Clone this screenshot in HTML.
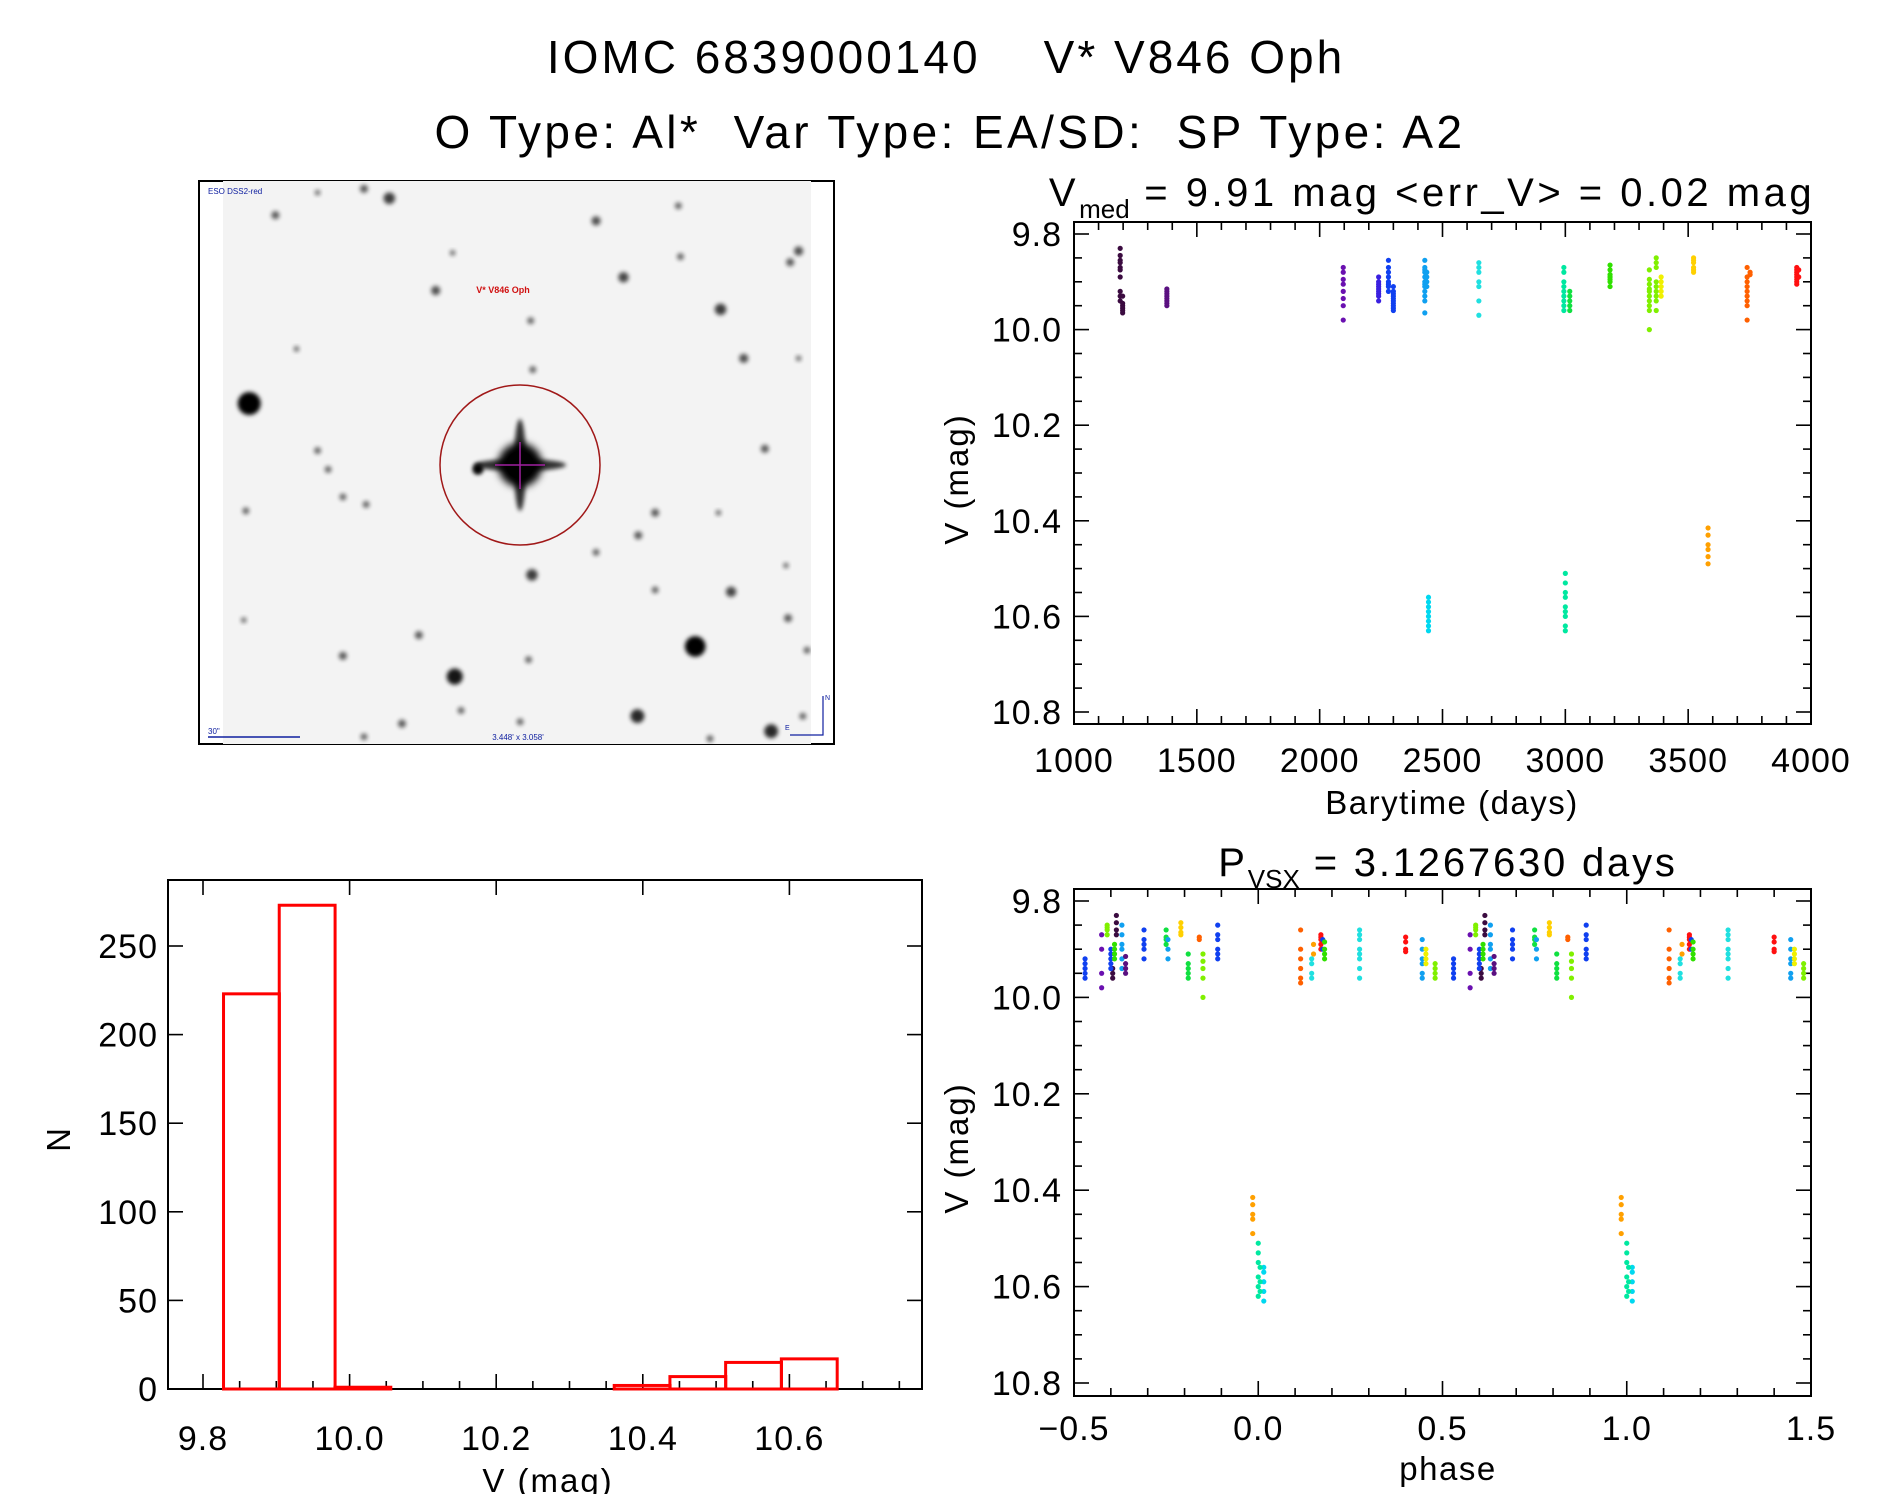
<!DOCTYPE html>
<html><head><meta charset="utf-8"><style>
html,body{margin:0;padding:0;background:#fff}
svg{display:block}
text{font-family:"Liberation Sans",sans-serif;fill:#000}
</style></head><body>
<svg id="fig" width="1889" height="1494" viewBox="0 0 1889 1494" xmlns="http://www.w3.org/2000/svg">
<defs>
<filter id="blur2" x="-50%" y="-50%" width="200%" height="200%"><feGaussianBlur stdDeviation="2.2"/></filter>
<filter id="blur4" x="-50%" y="-50%" width="200%" height="200%"><feGaussianBlur stdDeviation="4"/></filter>
<clipPath id="imgclip"><rect x="223" y="181" width="588" height="563"/></clipPath>
<clipPath id="clipTop"><rect x="1074" y="222" width="737" height="502"/></clipPath>
<clipPath id="clipPh"><rect x="1074" y="889" width="737" height="507"/></clipPath>
</defs>
<text x="946" y="73" font-size="46" text-anchor="middle" letter-spacing="3">IOMC 6839000140 &#160;&#160; V* V846 Oph</text>
<text x="950" y="148" font-size="46" text-anchor="middle" letter-spacing="3.4">O Type: Al* &#160;Var Type: EA/SD: &#160;SP Type: A2</text>

<g id="imgpanel">
<rect x="199" y="181" width="635" height="563" fill="#fff" stroke="#000" stroke-width="2"/>
<rect x="223" y="181" width="588" height="563" fill="#f3f3f3"/>
<g id="stars" clip-path="url(#imgclip)"></g>
<ellipse cx="520" cy="465" rx="80" ry="80" fill="none" stroke="#a01818" stroke-width="1.5"/>
<line x1="520" y1="442" x2="520" y2="489" stroke="#a020a0" stroke-width="1.5"/>
<line x1="495" y1="465" x2="545" y2="465" stroke="#a020a0" stroke-width="1.5"/>
<text x="503" y="293" font-size="9" font-weight="bold" style="fill:#d01010" text-anchor="middle">V* V846 Oph</text>
<text x="208" y="194" font-size="8" style="fill:#1020a0">ESO DSS2-red</text>
<text x="518" y="740" font-size="8" style="fill:#1020a0" text-anchor="middle">3.448' x 3.058'</text>
<text x="208" y="734" font-size="8" style="fill:#1020a0">30"</text>
<line x1="208" y1="737" x2="300" y2="737" stroke="#1020a0" stroke-width="1.5"/>
<polyline points="790,735 823,735 823,696" fill="none" stroke="#1020a0" stroke-width="1.2"/>
<text x="825" y="700" font-size="7" style="fill:#1020a0">N</text>
<text x="785" y="730" font-size="7" style="fill:#1020a0">E</text>
</g>

<g id="topplot"></g>
<g id="phplot"></g>
<g id="histplot"></g>
</svg>
<script>
// ---------- light curve data ----------
const lcColors = ["#3b0b40","#5a1080","#6a10b0","#3a20e0","#1040f0","#10a0f0","#00d8f0","#20e0e0","#00e8a0","#10e040","#30e000","#80f000","#f0f000","#ffd000","#ffa000","#ff6000","#ff1010"];
const lcTimes = [1188,1198,1378,2096,2240,2280,2300,2428,2436,2443,2648,2994,3000,3018,3182,3342,3370,3390,3522,3581,3740,3752,3942,3950];
const lcColorIdx = [0,0,1,2,3,4,4,5,5,6,7,8,8,9,10,11,11,12,13,14,15,15,16,16];
const lcMags = [
 [9.83,9.845,9.855,9.86,9.87,9.875,9.89,9.92,9.93,9.94],
 [9.93,9.945,9.95,9.955,9.96,9.965],
 [9.915,9.92,9.925,9.93,9.935,9.94,9.945,9.95],
 [9.87,9.88,9.895,9.905,9.92,9.935,9.95,9.98],
 [9.89,9.9,9.905,9.91,9.915,9.92,9.925,9.93,9.94],
 [9.855,9.87,9.88,9.89,9.9,9.905,9.91,9.92],
 [9.91,9.92,9.925,9.93,9.935,9.94,9.945,9.95,9.955,9.96],
 [9.855,9.87,9.875,9.88,9.89,9.9,9.905,9.91,9.92,9.93,9.94,9.965],
 [9.88,9.89,9.9,9.91],
 [10.56,10.57,10.58,10.59,10.6,10.61,10.62,10.63],
 [9.86,9.87,9.88,9.9,9.91,9.94,9.97],
 [9.87,9.88,9.9,9.91,9.92,9.93,9.94,9.95,9.96],
 [10.51,10.53,10.55,10.56,10.58,10.59,10.6,10.62,10.63],
 [9.92,9.93,9.94,9.95,9.96],
 [9.865,9.875,9.885,9.89,9.895,9.9,9.91],
 [9.875,9.895,9.905,9.915,9.92,9.93,9.94,9.95,9.96,10.0],
 [9.85,9.86,9.87,9.9,9.91,9.92,9.93,9.94,9.96],
 [9.89,9.9,9.91,9.92,9.93],
 [9.85,9.855,9.86,9.87,9.875,9.88],
 [10.415,10.43,10.45,10.46,10.475,10.49],
 [9.87,9.89,9.9,9.91,9.92,9.93,9.94,9.95,9.98],
 [9.88,9.885],
 [9.87,9.875,9.88,9.885,9.89,9.895,9.9,9.905],
 [9.875,9.89]
];
const lcXTicks = [1000,1500,2000,2500,3000,3500,4000];
const magTicks = [9.8,10.0,10.2,10.4,10.6,10.8];
const magTickLabels = ["9.8","10.0","10.2","10.4","10.6","10.8"];
// ---------- phase data ----------
const phPhase = [-0.47,-0.425,-0.41,-0.395,-0.385,-0.40,-0.39,-0.37,-0.36,-0.31,-0.25,-0.245,-0.21,-0.19,-0.16,-0.15,-0.11,0.115,0.145,0.15,0.17,0.175,0.18,0.275,0.40,0.445,0.455,0.48,-0.015,0.0,0.015,0.005];
const phColorIdx = [4,2,11,0,0,4,10,5,1,4,9,5,13,9,15,11,4,15,7,14,16,4,10,7,16,5,12,11,14,8,6,8];
const phMags = [
 [9.92,9.93,9.94,9.95,9.96],[9.87,9.9,9.95,9.98],[9.85,9.855,9.86,9.87],[9.94,9.95,9.96],[9.83,9.845,9.86,9.87],
 [9.9,9.91,9.92,9.93,9.94],[9.89,9.9,9.91,9.92],[9.85,9.87,9.89,9.9,9.92,9.94],[9.915,9.93,9.94,9.95],
 [9.86,9.88,9.89,9.9,9.92],[9.86,9.875,9.88,9.89],[9.88,9.9,9.92],[9.845,9.855,9.865,9.87],
 [9.91,9.93,9.94,9.95,9.96],[9.875,9.88],[9.91,9.925,9.94,9.96,10.0],[9.85,9.87,9.88,9.9,9.91,9.92],
 [9.86,9.9,9.92,9.94,9.96,9.97],[9.92,9.93,9.95,9.96],[9.89,9.91],[9.87,9.875,9.88,9.89,9.9],[9.88,9.9],
 [9.885,9.9,9.91,9.92],[9.86,9.87,9.88,9.9,9.91,9.92,9.94,9.96],[9.875,9.885,9.9,9.905],
 [9.88,9.9,9.92,9.93,9.95,9.96],[9.9,9.91,9.92,9.93],[9.93,9.94,9.95,9.96],
 [10.415,10.43,10.45,10.46,10.49],[10.51,10.53,10.55,10.58,10.6,10.62],[10.56,10.57,10.59,10.61,10.63],[10.56,10.59,10.61]
];
const phXTicks = [-0.5,0.0,0.5,1.0,1.5];
const phXTickLabels = ["\u22120.5","0.0","0.5","1.0","1.5"];
// ---------- histogram data ----------
const histBinLeft = [9.828,9.904,9.980,10.056,10.133,10.209,10.285,10.361,10.437,10.513,10.589];
const histBinWidth = 0.0762;
const histCounts = [223,273,1,0,0,0,0,2,7,15,17];
const histXTicks = [9.8,10.0,10.2,10.4,10.6];
const histXTickLabels = ["9.8","10.0","10.2","10.4","10.6"];
const histYTicks = [0,50,100,150,200,250];

const NS="http://www.w3.org/2000/svg";
function mk(tag,attrs,parent){const e=document.createElementNS(NS,tag);for(const k in attrs)e.setAttribute(k,attrs[k]);parent.appendChild(e);return e;}
function txt(s,attrs,parent){const e=mk('text',attrs,parent);e.textContent=s;return e;}

function frame(g,x0,y0,x1,y1){
  const r=mk('rect',{x:x0,y:y0,width:x1-x0,height:y1-y0,fill:'none',stroke:'#000','stroke-width':2},g);
  
  
}
function tickLine(g,x1,y1,x2,y2){mk('line',{x1:x1,y1:y1,x2:x2,y2:y2,stroke:'#000','stroke-width':1.6},g);}

// ===== top light curve =====
(function(){
  const g=document.getElementById('topplot');
  const X0=1074,X1=1811,Y0=222,Y1=724;
  const xs=t=>X0+(t-1000)/3000*(X1-X0);
  const ys=m=>234+(m-9.8)*478;
  frame(g,X0,Y0,X1,Y1);
  for(let t=1000;t<=4000;t+=100){const maj=(t%500===0);const L=maj?15:8;tickLine(g,xs(t),Y1,xs(t),Y1-L);tickLine(g,xs(t),Y0,xs(t),Y0+L);}
  for(let k=0;k<=20;k++){const m=9.8+k*0.05;const maj=(k%4===0);const L=maj?15:8;tickLine(g,X0,ys(m),X0+L,ys(m));tickLine(g,X1,ys(m),X1-L,ys(m));}
  lcXTicks.forEach(t=>{const e=txt(String(t),{x:xs(t),y:772,'font-size':34,'text-anchor':'middle','letter-spacing':1},g);
    
    });
  magTicks.forEach((m,i)=>{const e=txt(magTickLabels[i],{x:1062,y:ys(m)+12,'font-size':34,'text-anchor':'end','letter-spacing':1},g);
    
    });
  const xl=txt('Barytime (days)',{x:1452,y:814,'font-size':33,'text-anchor':'middle','letter-spacing':1.5},g);
  
  
  const yl=txt('V (mag)',{x:0,y:0,'font-size':33,'text-anchor':'middle','letter-spacing':2,transform:'translate(968,479) rotate(-90)'},g);
  
  
  const tt=mk('text',{x:1432,y:206,'font-size':40,'text-anchor':'middle','letter-spacing':3.5},g);
  
  
  tt.innerHTML='V<tspan font-size="26" dy="12" letter-spacing="0">med</tspan><tspan dy="-12"> = 9.91 mag &lt;err_V&gt; = 0.02 mag</tspan>';
  const pts=mk('g',{'clip-path':'url(#clipTop)'},g);
  lcTimes.forEach((t,i)=>{lcMags[i].forEach(m=>{
    const c=mk('circle',{cx:xs(t),cy:ys(m),r:2.6,fill:lcColors[lcColorIdx[i]]},pts);
    
    
  });});
})();

// ===== phase plot =====
(function(){
  const g=document.getElementById('phplot');
  const X0=1074,X1=1811,Y0=889,Y1=1396;
  const xs=p=>X0+(p+0.5)/2*(X1-X0);
  const ys=m=>901+(m-9.8)*482;
  frame(g,X0,Y0,X1,Y1);
  for(let k=0;k<=20;k++){const p=-0.5+k*0.1;const maj=(k%5===0);const L=maj?15:8;tickLine(g,xs(p),Y1,xs(p),Y1-L);tickLine(g,xs(p),Y0,xs(p),Y0+L);}
  for(let k=0;k<=20;k++){const m=9.8+k*0.05;const maj=(k%4===0);const L=maj?15:8;tickLine(g,X0,ys(m),X0+L,ys(m));tickLine(g,X1,ys(m),X1-L,ys(m));}
  phXTicks.forEach((p,i)=>{const e=txt(phXTickLabels[i],{x:xs(p),y:1440,'font-size':34,'text-anchor':'middle','letter-spacing':1},g);
    
    });
  magTicks.forEach((m,i)=>{const e=txt(magTickLabels[i],{x:1062,y:ys(m)+12,'font-size':34,'text-anchor':'end','letter-spacing':1},g);
    
    });
  const xl=txt('phase',{x:1448,y:1480,'font-size':33,'text-anchor':'middle','letter-spacing':1.5},g);
  
  
  const yl=txt('V (mag)',{x:0,y:0,'font-size':33,'text-anchor':'middle','letter-spacing':2,transform:'translate(968,1148) rotate(-90)'},g);
  
  
  const tt=mk('text',{x:1448,y:876,'font-size':40,'text-anchor':'middle','letter-spacing':2.8},g);
  
  
  tt.innerHTML='P<tspan font-size="26" dy="12" letter-spacing="0">VSX</tspan><tspan dy="-12"> = 3.1267630 days</tspan>';
  const pts=mk('g',{'clip-path':'url(#clipPh)'},g);
  phPhase.forEach((p,i)=>{[p,p+1].forEach(pp=>{phMags[i].forEach(m=>{
    const c=mk('circle',{cx:xs(pp),cy:ys(m),r:2.6,fill:lcColors[phColorIdx[i]]},pts);
    
    
  });});});
})();

// ===== histogram =====
(function(){
  const g=document.getElementById('histplot');
  const X0=168,X1=922,Y0=880,Y1=1389;
  const xs=v=>203+(v-9.8)*733;
  const ys=n=>1389-n*1.772;
  frame(g,X0,Y0,X1,Y1);
  for(let k=0;k<=19;k++){const v=9.8+k*0.05;if(xs(v)>X1)break;const maj=(k%4===0);const L=maj?15:8;tickLine(g,xs(v),Y1,xs(v),Y1-L);if(maj)tickLine(g,xs(v),Y0,xs(v),Y0+L);}
  histYTicks.forEach(n=>{tickLine(g,X0,ys(n),X0+15,ys(n));tickLine(g,X1,ys(n),X1-15,ys(n));});
  histXTicks.forEach((v,i)=>{const e=txt(histXTickLabels[i],{x:xs(v),y:1450,'font-size':34,'text-anchor':'middle','letter-spacing':1},g);
    
    });
  histYTicks.forEach(n=>{const e=txt(String(n),{x:158,y:ys(n)+12,'font-size':34,'text-anchor':'end','letter-spacing':1},g);
    
    });
  const xl=txt('V (mag)',{x:548,y:1492,'font-size':33,'text-anchor':'middle','letter-spacing':2},g);
  
  
  const yl=txt('N',{x:0,y:0,'font-size':33,'text-anchor':'middle',transform:'translate(70,1140) rotate(-90)'},g);
  
  
  histBinLeft.forEach((v,i)=>{
    const x=xs(v),w=histBinWidth*733,y=ys(histCounts[i]);
    const r=mk('rect',{x:x,y:y,width:w,height:Math.max(0,Y1-y),fill:'none',stroke:'#ff0000','stroke-width':3},g);
    
    
  });
})();

// ===== star field (decorative image) =====
(function(){
  const g=document.getElementById('stars');
  const st=[[138,620,10],[1195,1265,9],[625,1345,7],[1058,1450,6],[808,1075,5],[1375,1490,6],[470,75,5],[1025,285,4.5],[960,135,4],[1310,500,4],[1255,370,5],[1440,215,4],[1420,245,3.5],[580,320,4],[1280,1120,4.5],[1100,910,3.5],[1060,970,3.5],[1360,740,3.5],[360,1290,3.5],[540,1235,3.5],[200,120,3.5],[410,50,3.5],[300,745,3],[325,795,3],[415,888,3],[360,868,3],[130,905,3],[1415,1190,3.5],[1460,1275,3],[500,1470,3.5],[680,795,4],[1155,95,3],[1100,1115,3],[800,1300,3],[410,1505,3],[250,475,2.5],[805,400,3],[810,530,3],[960,1015,3],[300,60,2.5],[620,220,2.5],[1160,230,3],[1450,1450,3],[1230,1510,3],[640,1435,3],[780,1465,3],[125,1195,2.5],[1410,1050,2.5],[1250,910,2.5],[1440,500,2.5]];
  st.forEach(s=>{const cx=191+s[0]/2.37,cy=170+s[1]/2.655;
    mk('circle',{cx:cx,cy:cy,r:s[2]*1.15,fill:'#000',opacity:Math.min(1,0.35+s[2]*0.08),filter:'url(#blur2)'},g);});
  const cx=520,cy=465;
  mk('circle',{cx:cx,cy:cy,r:22,fill:'#000',filter:'url(#blur4)'},g);
  mk('ellipse',{cx:cx,cy:cy,rx:46,ry:6,fill:'#000',opacity:0.8,filter:'url(#blur2)'},g);
  mk('ellipse',{cx:cx,cy:cy,rx:6,ry:46,fill:'#000',opacity:0.8,filter:'url(#blur2)'},g);
  mk('circle',{cx:cx,cy:cy,r:14,fill:'#000'},g);
  mk('circle',{cx:478,cy:469,r:5,fill:'#000',filter:'url(#blur2)'},g);
})();
</script>
</body></html>
